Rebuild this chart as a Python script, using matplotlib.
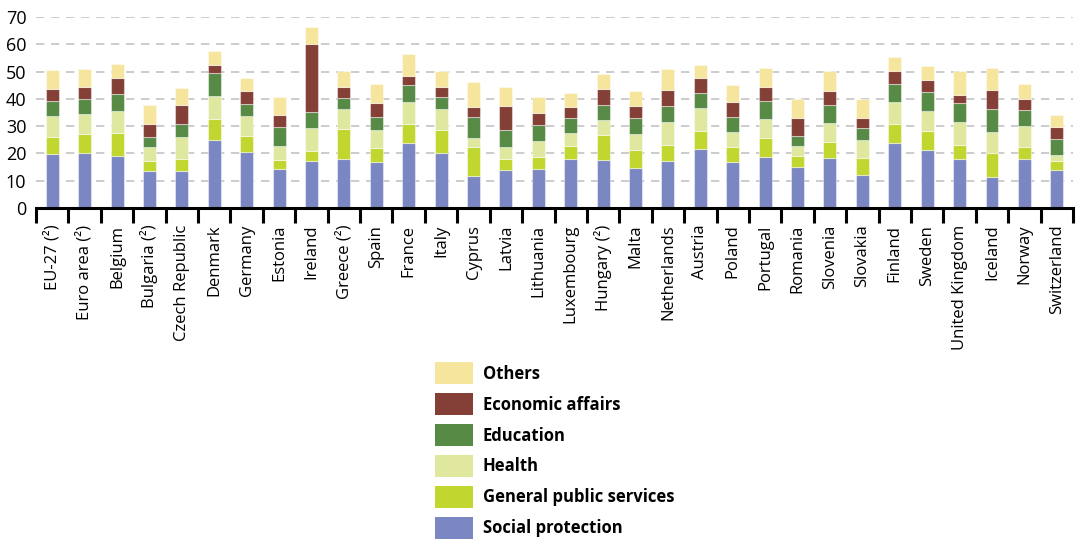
import numpy as np
import matplotlib
matplotlib.use("Agg")
import matplotlib.pyplot as plt
from matplotlib.patches import Patch

plt.rcParams["font.family"] = ["Open Sans", "DejaVu Sans"]

countries = ["EU-27 (²)", "Euro area (²)", "Belgium", "Bulgaria (²)", "Czech Republic",
             "Denmark", "Germany", "Estonia", "Ireland", "Greece (²)", "Spain", "France",
             "Italy", "Cyprus", "Latvia", "Lithuania", "Luxembourg", "Hungary (²)", "Malta",
             "Netherlands", "Austria", "Poland", "Portugal", "Romania", "Slovenia",
             "Slovakia", "Finland", "Sweden", "United Kingdom", "Iceland", "Norway",
             "Switzerland"]

social_protection = [19.9, 20.3, 19.2, 13.4, 13.6, 25.1, 20.5, 14.4, 17.1, 17.8, 16.7, 24.0,
                     20.2, 11.6, 13.8, 14.4, 18.1, 17.7, 14.6, 17.1, 21.6, 16.7, 18.6, 14.9,
                     18.5, 12.1, 23.8, 21.4, 17.8, 11.2, 17.8, 13.8]
general_public = [6.3, 6.9, 8.3, 3.9, 4.4, 7.5, 5.9, 3.3, 3.9, 11.2, 5.3, 6.9,
                  8.4, 10.7, 4.2, 4.4, 4.6, 9.2, 6.7, 5.9, 6.8, 5.8, 6.9, 4.3,
                  5.7, 6.4, 7.1, 7.0, 5.2, 8.8, 4.6, 3.3]
health = [7.5, 7.4, 7.9, 4.9, 8.1, 8.6, 7.3, 5.2, 8.5, 7.4, 6.6, 8.1,
          7.6, 3.4, 4.5, 5.6, 4.9, 5.3, 5.7, 8.4, 8.1, 5.3, 7.0, 3.7,
          7.1, 6.3, 8.1, 7.0, 8.4, 7.9, 7.7, 2.3]
education = [5.4, 5.2, 6.3, 3.7, 4.8, 8.1, 4.3, 6.9, 5.8, 3.9, 4.8, 5.9,
             4.4, 7.6, 6.1, 6.1, 5.3, 5.4, 5.9, 5.9, 5.8, 5.6, 6.6, 3.4,
             6.6, 4.6, 6.6, 7.0, 7.0, 8.4, 5.7, 5.9]
economic = [4.6, 4.7, 5.9, 5.0, 6.7, 3.2, 4.9, 4.3, 24.9, 4.2, 5.1, 3.3,
            3.7, 3.6, 8.8, 4.3, 4.0, 5.9, 4.5, 6.1, 5.4, 5.3, 5.4, 6.7,
            5.1, 3.6, 4.7, 4.5, 2.9, 6.9, 4.3, 4.4]
others = [6.7, 6.4, 5.1, 6.9, 6.4, 5.2, 4.7, 6.5, 6.3, 5.7, 6.9, 8.3,
          5.9, 9.3, 6.8, 5.8, 5.4, 5.7, 5.6, 7.6, 4.7, 6.4, 6.7, 7.0,
          7.1, 7.0, 5.0, 5.2, 8.8, 8.2, 5.2, 4.4]

series = [
    ("Social protection", social_protection, "#7b87c2"),
    ("General public services", general_public, "#c1d730"),
    ("Health", health, "#dfe89e"),
    ("Education", education, "#578a45"),
    ("Economic affairs", economic, "#843f36"),
    ("Others", others, "#f6e59c"),
]

fig = plt.figure(figsize=(10.82, 5.44), dpi=100)
ax = fig.add_axes([0.0333, 0.6176, 0.9584, 0.3512])

x = np.arange(len(countries))
bottom = np.zeros(len(countries))
for name, vals, col in series:
    ax.bar(x, vals, bottom=bottom, width=0.4, color=col, label=name,
           edgecolor=(1, 1, 1, 0.45), linewidth=0.8, zorder=3)
    bottom += np.array(vals)

ax.set_xlim(-0.5, len(countries) - 0.5)
ax.set_ylim(0, 70)
ax.set_yticks(range(0, 71, 10))
for v in range(10, 71, 10):
    ax.axhline(v, color="#c4c4c4", linewidth=1.2, linestyle=(0, (5, 4)), zorder=1)

for s in ["top", "right", "left"]:
    ax.spines[s].set_visible(False)
ax.spines["bottom"].set_linewidth(2.2)
ax.spines["bottom"].set_zorder(4)

ax.set_xticks(x)
ax.set_xticklabels(countries, rotation=90, fontsize=12)
ax.tick_params(axis="x", which="major", length=0, pad=12)
ax.set_xticks(np.arange(-0.5, len(countries), 1), minor=True)
ax.tick_params(axis="x", which="minor", length=11, width=2.2, direction="out")
ax.tick_params(axis="y", length=0, pad=7, labelsize=13)

handles = [Patch(facecolor=col, edgecolor="none") for _, _, col in series][::-1]
labels = [name for name, _, _ in series][::-1]
fig.legend(handles, labels, loc="upper left", bbox_to_anchor=(0.402, 0.334),
           frameon=False, prop={"weight": "bold", "size": 12},
           handlelength=2.28, handleheight=1.66, handletextpad=0.6,
           labelspacing=0.53, borderaxespad=0, borderpad=0)

fig.savefig("out.png", dpi=100)
